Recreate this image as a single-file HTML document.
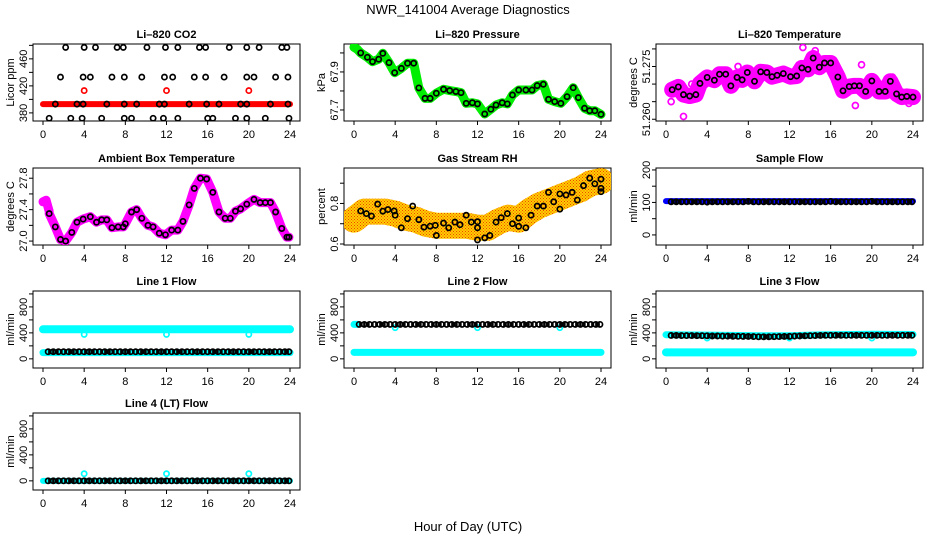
<!DOCTYPE html>
<html><head><meta charset="utf-8"><style>
html,body{margin:0;padding:0;background:#fff;}
svg{display:block;font-family:"Liberation Sans",Arial,sans-serif;}
</style></head><body>
<svg id="chart" width="936" height="540" viewBox="0 0 936 540" xmlns="http://www.w3.org/2000/svg">
<defs>
<pattern id="rhpat" width="3" height="3" patternUnits="userSpaceOnUse"><rect width="3" height="3" fill="#ffd000"/><rect width="1" height="1" fill="#f04000"/><rect x="1.5" y="1.5" width="1" height="1" fill="#f04000"/></pattern>
</defs>
<text x="468" y="14" text-anchor="middle" font-size="13">NWR_141004  Average Diagnostics</text>
<text x="468" y="531" text-anchor="middle" font-size="13">Hour of Day (UTC)</text>
</svg>
<script>
// ---------- data ----------
const co2RedHours=[0,24];
const co2RedValues=[393,393];
const co2RedOutHours=[4,12,20];
const co2RedOutValues=[413,413,413];
const co2BlackHours=[2.2,4.0,5.1,7.2,7.8,10.1,11.9,13.1,15.2,15.8,18.1,19.8,21.0,23.2,23.7,
1.7,3.9,4.6,6.7,7.9,9.6,11.8,12.6,14.7,15.8,17.6,19.8,20.5,22.6,23.8,
1.2,3.3,3.9,6.2,7.9,9.1,11.3,11.8,14.2,15.9,17.1,19.2,19.8,22.1,23.8,
0.6,2.7,3.8,5.7,7.9,8.6,10.7,11.7,13.1,16.0,16.5,18.7,19.8,21.6,23.9];
const co2BlackValues=[477,477,477,477,477,477,477,477,477,477,477,477,477,477,477,
433,433,433,433,433,433,433,433,433,433,433,433,433,433,433,
393,393,393,393,393,393,393,393,393,393,393,393,393,393,393,
372,372,372,372,372,372,372,372,372,372,372,372,372,372,372];

const presHours=[0.65,1.3,1.8,2.4,2.8,3.4,3.95,4.6,5.2,5.8,6.3,6.9,7.4,8.0,8.7,9.3,9.9,10.4,10.9,11.5,12.0,12.7,13.3,13.8,14.4,14.9,15.4,16.0,16.7,17.3,17.8,18.4,18.9,19.5,20.1,20.7,21.3,21.8,22.4,22.9,23.4,24.0];
const presValues=[68.0,67.977,67.954,67.967,67.998,67.949,67.896,67.919,67.946,67.946,67.816,67.761,67.761,67.788,67.809,67.802,67.797,67.791,67.735,67.738,67.732,67.679,67.704,67.726,67.738,67.732,67.779,67.805,67.805,67.805,67.828,67.835,67.756,67.744,67.735,67.77,67.817,67.765,67.709,67.696,67.696,67.677];
const presBandHours=[0,0.3,0.65];
const presBandValues=[68.03,68.02,68.0];

const tempHours=[0.6,1.2,1.7,2.3,2.9,3.3,4.0,4.7,5.2,5.8,6.3,6.9,7.4,7.9,8.6,9.2,9.8,10.3,10.8,11.4,12.1,12.7,13.2,13.8,14.3,14.9,15.4,16.0,16.7,17.2,17.8,18.3,18.8,19.4,20.0,20.7,21.3,21.8,22.4,22.9,23.4,24.0];
const tempValues=[51.2684,51.2692,51.2670,51.2666,51.2670,51.2702,51.2719,51.2711,51.2728,51.2728,51.2695,51.2719,51.2712,51.2733,51.2708,51.2735,51.2733,51.2721,51.2725,51.2730,51.2721,51.2723,51.2746,51.2742,51.2774,51.2748,51.2760,51.2760,51.2720,51.2681,51.2693,51.2695,51.2695,51.2679,51.2709,51.2679,51.2679,51.2708,51.2672,51.2663,51.2665,51.2663];
const tempOutHours=[1.7,13.3,18.4,0.5,2.5,7.0,19.0,22.0,23.6,14.5,16.3];
const tempOutValues=[51.2608,51.2804,51.2639,51.2650,51.2700,51.2750,51.2755,51.2720,51.2645,51.2795,51.2745];

const ambHours=[0.6,1.2,1.7,2.2,2.8,3.3,3.9,4.6,5.2,5.7,6.2,6.7,7.3,7.8,8.0,8.6,9.1,9.6,10.2,10.7,11.3,11.9,12.5,13.1,13.6,14.2,14.7,15.3,15.9,16.5,17.1,17.7,18.2,18.7,19.2,19.8,20.5,21.1,21.6,22.1,22.6,23.2,23.7,23.9];
const ambValues=[27.35,27.18,27.02,27.0,27.11,27.24,27.28,27.31,27.24,27.27,27.27,27.17,27.18,27.18,27.22,27.37,27.40,27.29,27.20,27.18,27.10,27.08,27.14,27.14,27.25,27.46,27.67,27.80,27.79,27.62,27.37,27.29,27.29,27.38,27.41,27.47,27.53,27.49,27.49,27.49,27.37,27.16,27.05,27.05];
const ambBandHours=[0,0.3,0.6];
const ambBandValues=[27.50,27.52,27.38];

const rhHours=[0.65,1.2,1.7,2.3,2.8,3.3,3.9,4.0,4.6,5.2,5.7,6.3,6.8,7.4,7.9,8.0,8.7,9.2,9.8,10.3,10.9,11.4,12.0,12.0,12.0,12.7,13.2,13.8,14.3,14.9,15.4,16.0,16.0,16.7,17.2,17.8,18.4,18.9,19.4,20.0,20.0,20.6,21.2,21.7,22.3,22.9,23.4,24.0,24.0,24.0];
const rhValues=[0.763,0.75,0.738,0.797,0.762,0.77,0.763,0.742,0.68,0.725,0.787,0.72,0.683,0.688,0.692,0.642,0.703,0.68,0.708,0.695,0.742,0.708,0.71,0.68,0.62,0.63,0.642,0.708,0.73,0.75,0.70,0.728,0.687,0.68,0.742,0.787,0.787,0.855,0.808,0.847,0.772,0.842,0.855,0.817,0.888,0.925,0.897,0.92,0.858,0.875];
const rhBandHours=[0,1,2,3,4,5,6,7,8,9,10,11,12,13,14,15,16,17,18,19,20,21,22,23,24];
const rhBandValues=[0.72,0.76,0.76,0.76,0.75,0.73,0.72,0.70,0.69,0.69,0.69,0.69,0.68,0.68,0.71,0.73,0.72,0.76,0.79,0.81,0.83,0.85,0.87,0.90,0.91];

const flowHours=[0.5,1,1.5,2,2.5,3,3.5,4,4.5,5,5.5,6,6.5,7,7.5,8,8.5,9,9.5,10,10.5,11,11.5,12,12.5,13,13.5,14,14.5,15,15.5,16,16.5,17,17.5,18,18.5,19,19.5,20,20.5,21,21.5,22,22.5,23,23.5,23.9];
const sampleBlack=[102,102,102,102,102,102,102,101,102,102,102,102,102,102,102,103,102,102,102,102,102,102,102,102,102,102,102,102,102,102,102,103,102,102,102,102,102,102,102,103,102,102,102,102,102,102,102,102];
const sampleBand=[104,104];
const bandEnds=[0,24];
const line1Cyan=[455,455];
const line1CyanLow=[96,96];
const line1Black=[110,110,110,110,110,110,110,110,110,110,110,110,110,110,110,110,110,110,110,110,110,110,110,110,110,110,110,110,110,110,110,110,110,110,110,110,110,110,110,110,110,110,110,110,110,110,110,110];
const line2Cyan=[100,100];
const line2CyanHigh=[530,530];
const line2Black=[530,530,530,530,530,530,530,530,530,530,530,530,530,530,530,530,530,530,530,530,530,530,530,530,530,530,530,530,530,530,530,530,530,530,530,530,530,530,530,530,530,530,530,530,530,530,530,530];
const line3Cyan=[372,365,362,356,356,370,378,375];
const line3CyanHours=[0,4,6,9,12,15,20,24];
const line3CyanLow=[100,100];
const line3Black=[360,360,358,358,358,357,356,355,352,352,350,350,348,347,346,345,343,340,340,340,342,343,345,346,350,352,355,356,358,360,362,362,362,362,362,362,362,362,362,362,362,362,362,362,362,362,362,362];
const line4Cyan=[0,0];
const line4Black=[0,0,0,0,0,0,0,0,0,0,0,0,0,0,0,0,0,0,0,0,0,0,0,0,0,0,0,0,0,0,0,0,0,0,0,0,0,0,0,0,0,0,0,0,0,0,0,0];
const cyanDipHours=[4,12,20];
const line1Dips=[376,376,376];
const line2Dips=[480,480,480];
const line3Dips=[320,320,320];
const line4Spikes=[110,110,110];

// ---------- drawing ----------
const NS="http://www.w3.org/2000/svg";
const svg=document.getElementById('chart');
const colLeft=[33,344,656];
const rowTop=[44,168,291,413];
const BW=267,BH=77;
function el(tag,attrs,parent){const e=document.createElementNS(NS,tag);for(const k in attrs)e.setAttribute(k,attrs[k]);(parent||svg).appendChild(e);return e;}

function panel(name,col,row,title,ylab,ylim,ticks,labels){
  const left=colLeft[col],top=rowTop[row];
  const g=el('g',{});
  
  
  const X=h=>left+10+h*(247/24);
  const Y=v=>top+(ylim[1]-v)/(ylim[1]-ylim[0])*BH;
  const t=el('text',{x:left+BW/2,y:top-6,'text-anchor':'middle','font-size':11,'font-weight':'bold'},g);
  t.textContent=title;
  
  
  const box=el('rect',{x:left,y:top,width:BW,height:BH,fill:'none',stroke:'#000','stroke-width':1},g);
  
  
  const xa=el('g',{},g);
  
  
  el('line',{x1:X(0),x2:X(24),y1:top+BH,y2:top+BH,stroke:'#000'},xa);
  for(let h=0;h<=24;h+=4){
    el('line',{x1:X(h),x2:X(h),y1:top+BH,y2:top+BH+4,stroke:'#000'},xa);
    const tl=el('text',{x:X(h),y:top+BH+17,'text-anchor':'middle','font-size':11},xa);
    tl.textContent=h;
    
    
  }
  const ya=el('g',{},g);
  
  
  el('line',{x1:left,x2:left,y1:Y(ticks[0]),y2:Y(ticks[ticks.length-1]),stroke:'#000'},ya);
  ticks.forEach(v=>el('line',{x1:left-4,x2:left,y1:Y(v),y2:Y(v),stroke:'#000'},ya));
  labels.forEach(v=>{
    const y=Y(+v);
    const tl=el('text',{x:0,y:0,transform:`translate(${left-6},${y}) rotate(-90)`,'text-anchor':'middle','font-size':11},ya);
    tl.textContent=v;
    
    
  });
  const yl=el('text',{x:0,y:0,transform:`translate(${left-19},${top+BH/2}) rotate(-90)`,'text-anchor':'middle','font-size':11},g);
  yl.textContent=ylab;
  
  
  const clip='clip-'+name;
  const cp=el('clipPath',{id:clip},g);
  el('rect',{x:left,y:top,width:BW,height:BH},cp);
  const plot=el('g',{'clip-path':`url(#${clip})`},g);
  return {X,Y,plot};
}
function band(p,hours,vals,color,w,name){
  const pts=hours.map((h,i)=>p.X(h)+','+p.Y(vals[i])).join(' ');
  const l=el('polyline',{points:pts,fill:'none',stroke:color,'stroke-width':w,'stroke-linecap':'round','stroke-linejoin':'round'},p.plot);
  
  
}
function dots(p,hours,vals,color,name,r){
  hours.forEach((h,i)=>{
    const c=el('circle',{cx:p.X(h),cy:p.Y(vals[i]),r:r||2.6,fill:'none',stroke:color,'stroke-width':1.7},p.plot);
    
    
  });
}
function chain(p,hours,vals,name){
  const pts=hours.map((h,i)=>p.X(h)+','+p.Y(vals[i])).join(' ');
  const l=el('polyline',{points:pts,fill:'none',stroke:'#000','stroke-width':5,'stroke-dasharray':'2.5 1.5'},p.plot);
  
  
  dots(p,hours,vals,'#000',name);
}

let p=panel('co2',0,0,'Li\u2013820 CO2','Licor ppm',[368,482],[380,400,420,440,460,480],['380','420','460']);
band(p,co2RedHours,co2RedValues,'#ff0000',6,'co2-red-band');
dots(p,co2RedOutHours,co2RedOutValues,'#ff0000','co2-red-point');
dots(p,co2BlackHours,co2BlackValues,'#000','co2-black-point');

p=panel('pressure',1,0,'Li\u2013820 Pressure','kPa',[67.642,68.047],[67.7,67.8,67.9,68.0],['67.7','67.9']);
band(p,presBandHours,presBandValues,'#00ee00',9,'pressure-green-band-head');
band(p,presHours,presValues,'#00ee00',9,'pressure-green-band');
dots(p,presHours,presValues,'#000','pressure-black-point');

p=panel('li820-temp',2,0,'Li\u2013820 Temperature','degrees C',[51.2595,51.2814],[51.260,51.265,51.270,51.275,51.280],['51.260','51.275']);
band(p,tempHours,tempValues,'#ff00ff',16,'temp-magenta-band');
dots(p,tempOutHours,tempOutValues,'#ff00ff','temp-magenta-point',3);
dots(p,tempHours,tempValues,'#000','temp-black-point');

p=panel('ambient',0,1,'Ambient Box Temperature','degrees C',[26.95,27.93],[27.0,27.2,27.4,27.6,27.8],['27.0','27.4','27.8']);
band(p,ambBandHours,ambBandValues,'#ff00ff',9,'ambient-band-head');
band(p,ambHours,ambValues,'#ff00ff',9,'ambient-magenta-band');
dots(p,ambHours,ambValues,'#000','ambient-black-point');

p=panel('rh',1,1,'Gas Stream RH','percent',[0.595,0.975],[0.6,0.7,0.8,0.9],['0.6','0.8']);
band(p,rhBandHours,rhBandValues,'url(#rhpat)',26,'rh-orange-band');
dots(p,rhHours,rhValues,'#000','rh-black-point');

p=panel('sample-flow',2,1,'Sample Flow','ml/min',[-31,206],[0,50,100,150,200],['0','100','200']);
band(p,bandEnds,sampleBand,'#0000ff',6,'sample-blue-band');
chain(p,flowHours,sampleBlack,'sample-black-point');

const flowTicks=[0,200,400,600,800,1000],flowLabels=['0','400','800'],flowLim=[-141,1045];
p=panel('line1',0,2,'Line 1 Flow','ml/min',flowLim,flowTicks,flowLabels);
band(p,bandEnds,line1Cyan,'#00ffff',8,'line1-cyan-band');
band(p,bandEnds,line1CyanLow,'#00ffff',7,'line1-cyan-low-band');
dots(p,cyanDipHours,line1Dips,'#00ffff','line1-cyan-dip');
chain(p,flowHours,line1Black,'line1-black-point');
p=panel('line2',1,2,'Line 2 Flow','ml/min',flowLim,flowTicks,flowLabels);
band(p,bandEnds,line2Cyan,'#00ffff',7,'line2-cyan-band');
band(p,[0,0.4],line2CyanHigh,'#00ffff',7,'line2-cyan-start');
dots(p,cyanDipHours,line2Dips,'#00ffff','line2-cyan-dip');
chain(p,flowHours,line2Black,'line2-black-point');
p=panel('line3',2,2,'Line 3 Flow','ml/min',flowLim,flowTicks,flowLabels);
band(p,line3CyanHours,line3Cyan,'#00ffff',7,'line3-cyan-band');
band(p,bandEnds,line3CyanLow,'#00ffff',8,'line3-cyan-low-band');
dots(p,cyanDipHours,line3Dips,'#00ffff','line3-cyan-dip');
chain(p,flowHours,line3Black,'line3-black-point');
p=panel('line4',0,3,'Line 4 (LT) Flow','ml/min',flowLim,flowTicks,flowLabels);
band(p,bandEnds,line4Cyan,'#00ffff',6,'line4-cyan-band');
dots(p,cyanDipHours,line4Spikes,'#00ffff','line4-cyan-spike');
chain(p,flowHours,line4Black,'line4-black-point');
</script>
</body></html>
